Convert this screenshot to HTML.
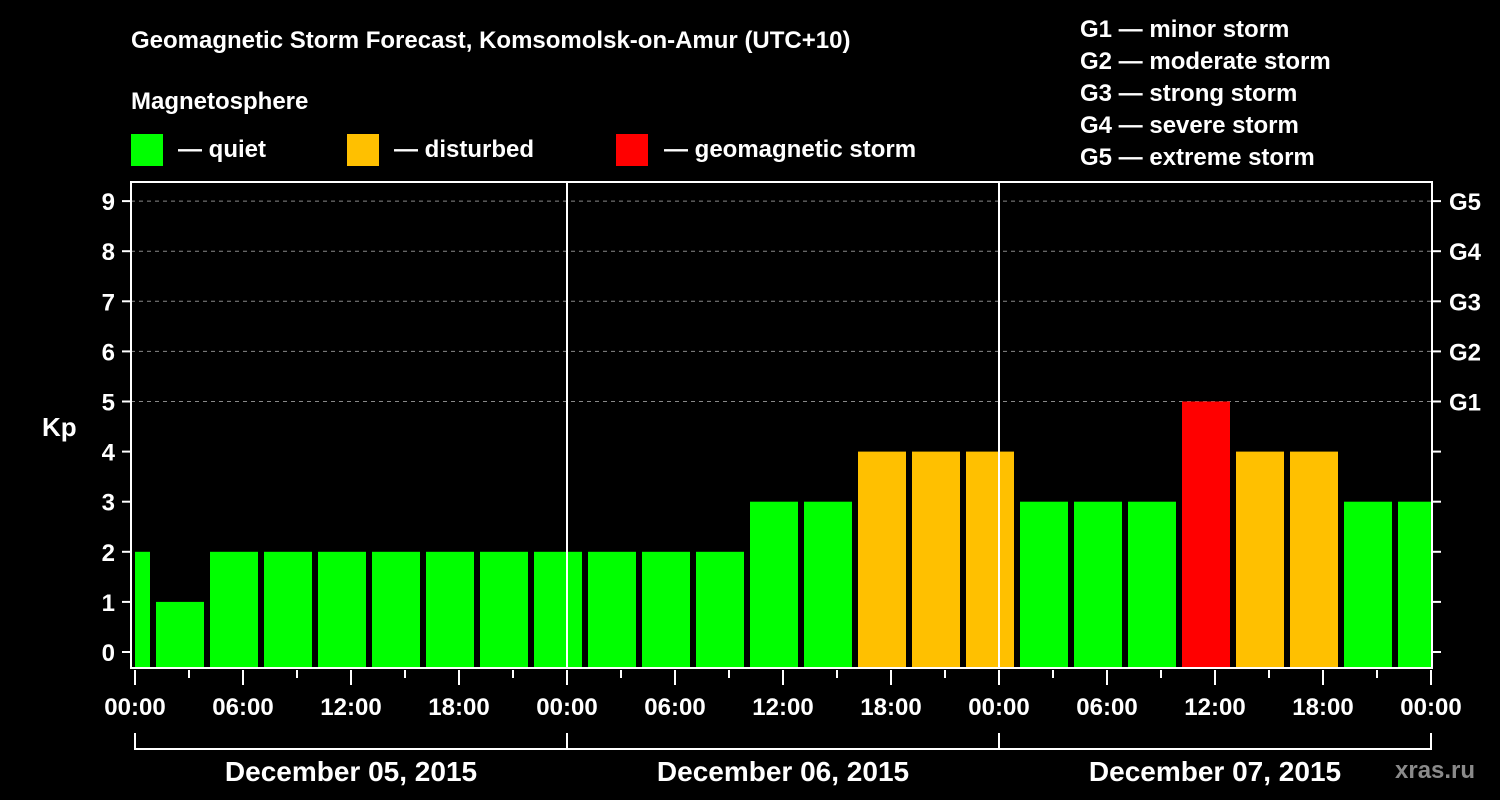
<!DOCTYPE html>
<html><head><meta charset="utf-8"><style>
html,body{margin:0;padding:0;background:#000;width:1500px;height:800px;overflow:hidden}
svg text{font-family:"Liberation Sans",sans-serif;font-weight:bold;fill:#fff}
</style></head><body>
<svg id="c" width="1500" height="800" xmlns="http://www.w3.org/2000/svg">
<text x="131" y="48" font-size="24">Geomagnetic Storm Forecast, Komsomolsk-on-Amur (UTC+10)</text>
<text x="131" y="109" font-size="24">Magnetosphere</text>
<g><rect x="131" y="134" width="32" height="32" fill="#00ff00"/><text x="178" y="157" font-size="24">— quiet</text></g>
<g><rect x="347" y="134" width="32" height="32" fill="#ffc000"/><text x="394" y="157" font-size="24">— disturbed</text></g>
<g><rect x="616" y="134" width="32" height="32" fill="#ff0000"/><text x="664" y="157" font-size="24">— geomagnetic storm</text></g>
<g font-size="24">
<text x="1080" y="37">G1 — minor storm</text>
<text x="1080" y="69">G2 — moderate storm</text>
<text x="1080" y="101">G3 — strong storm</text>
<text x="1080" y="133">G4 — severe storm</text>
<text x="1080" y="165">G5 — extreme storm</text>
</g>
<text x="42" y="436" font-size="26">Kp</text>
<g id="grid"></g><g id="bars"></g><g id="axes"></g>
<text x="1395" y="778" font-size="24" fill="#888" style="fill:#8a8a8a">xras.ru</text>
</svg>
<script>
const kpValues=[2,1,2,2,2,2,2,2,2,2,2,2,3,3,4,4,4,3,3,3,5,4,4,3,3];
const yTickLabels=["0","1","2","3","4","5","6","7","8","9"];
const gLabels=["G1","G2","G3","G4","G5"];
const xTickLabels=["00:00","06:00","12:00","18:00","00:00","06:00","12:00","18:00","00:00","06:00","12:00","18:00","00:00"];
const dayLabels=["December 05, 2015","December 06, 2015","December 07, 2015"];
const NS="http://www.w3.org/2000/svg";
const L=131,R=1432,T=182,B=668;
const y=v=>652-v*50.1;
const x=h=>135+h*18; // hours since Dec 05 00:00 local
function el(t,a,p){const e=document.createElementNS(NS,t);for(const k in a)e.setAttribute(k,a[k]);document.getElementById(p).appendChild(e);return e;}
// grid
for(let v=5;v<=9;v++){const g=el('line',{x1:L,x2:R,y1:y(v),y2:y(v),stroke:'#888','stroke-dasharray':'4,4','stroke-width':1},'grid');

}
// bars
const col=v=>v>=5?'#ff0000':v>=4?'#ffc000':'#00ff00';
kpValues.forEach((v,i)=>{
 let s=-2+3*i,e=s+3;
 let x0=Math.max(x(s)+3,x(0)),x1=Math.min(x(e)-3,x(72));
 const r=el('rect',{x:x0,y:y(v),width:x1-x0,height:B-y(v),fill:col(v)},'bars');
 
 
});
// day separators
[24,48].forEach(h=>{const l=el('line',{x1:x(h),x2:x(h),y1:T,y2:B,stroke:'#fff','stroke-width':2},'axes');

});
// frame
const f=el('rect',{x:L,y:T,width:R-L,height:B-T,fill:'none',stroke:'#fff','stroke-width':2},'axes');


// y ticks
yTickLabels.forEach((t,i)=>{
 el('line',{x1:122,x2:L,y1:y(i),y2:y(i),stroke:'#fff','stroke-width':2},'axes');
 el('line',{x1:R,x2:1441,y1:y(i),y2:y(i),stroke:'#fff','stroke-width':2},'axes');
 const tx=el('text',{x:115,y:y(i)+9,'font-size':24,'text-anchor':'end'},'axes');tx.textContent=t;
 
 
});
gLabels.forEach((g,i)=>{const tx=el('text',{x:1449,y:y(5+i)+9,'font-size':24},'axes');tx.textContent=g;
 
 });
// x ticks
for(let h=0;h<=72;h+=3){el('line',{x1:x(h),x2:x(h),y1:670,y2:h%6==0?685:678,stroke:'#fff','stroke-width':2},'axes');}
xTickLabels.forEach((t,i)=>{const tx=el('text',{x:x(i*6),y:715,'font-size':24,'text-anchor':'middle'},'axes');tx.textContent=t;
 
 });
el('polyline',{points:`${x(0)},733 ${x(0)},749 ${x(72)},749 ${x(72)},733`,fill:'none',stroke:'#fff','stroke-width':2},'axes');
[24,48].forEach(h=>el('line',{x1:x(h),x2:x(h),y1:733,y2:749,stroke:'#fff','stroke-width':2},'axes'));
dayLabels.forEach((d,i)=>{const tx=el('text',{x:x(i*24+12),y:781,'font-size':28,'text-anchor':'middle'},'axes');tx.textContent=d;
 
 });
</script>
</body></html>
